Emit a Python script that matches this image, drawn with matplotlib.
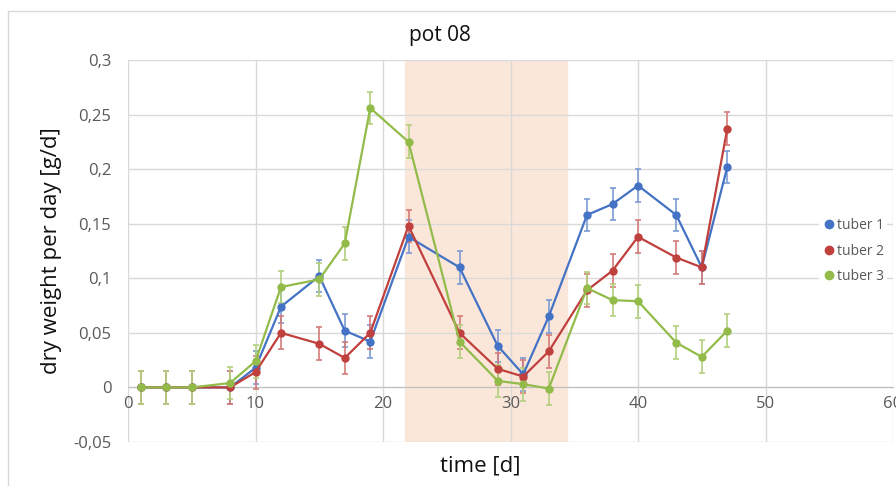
import matplotlib.pyplot as plt
from matplotlib.lines import Line2D
from matplotlib.patches import Rectangle

# === DONNÉES ===
days = [1, 3, 5, 8, 10, 12, 15, 17, 19, 22, 26, 29, 31, 33, 36, 38, 40, 43, 45, 47]
tuber_1 = [0, 0, 0, 0, 0.018, 0.074, 0.102, 0.052, 0.042, 0.138, 0.110, 0.038, 0.012, 0.065,
           0.158, 0.168, 0.185, 0.158, 0.110, 0.202]
tuber_2 = [0, 0, 0, 0, 0.014, 0.050, 0.040, 0.027, 0.050, 0.148, 0.050, 0.017, 0.010, 0.033,
           0.089, 0.107, 0.138, 0.119, 0.110, 0.237]
tuber_3 = [0, 0, 0, 0.004, 0.024, 0.092, 0.099, 0.132, 0.256, 0.225, 0.042, 0.006, 0.003, -0.001,
           0.091, 0.080, 0.079, 0.041, 0.028, 0.052]
err = 0.015
shade_start, shade_end = 21.7, 34.4

series = [("tuber 1", tuber_1, "#4472C4", "#7C9BD4"),
          ("tuber 2", tuber_2, "#C0403D", "#D47C79"),
          ("tuber 3", tuber_3, "#92BB4A", "#B2D07E")]

plt.rcParams['font.family'] = ['Open Sans', 'DejaVu Sans']

fig = plt.figure(figsize=(8.96, 4.86), dpi=100)
fig.patches.append(Rectangle((8 / 896, -0.1), 1.0, 1 - 11 / 486 + 0.1, transform=fig.transFigure,
                             fill=False, edgecolor="#D9D9D9", linewidth=1))
ax = fig.add_axes([128 / 896, 1 - 442 / 486, 765 / 896, 382 / 486])

ax.axvspan(shade_start, shade_end, color="#FBE7DA", zorder=0)

for label, vals, col, ecol in series:
    ax.errorbar(days, vals, yerr=err, color=col, ecolor=ecol, elinewidth=1.2, capsize=2.5,
                capthick=1.2, marker="o", markersize=5, linewidth=1.6, zorder=3)

ax.set_xlim(0, 60)
ax.set_ylim(-0.05, 0.3)
ax.set_xticks(range(0, 61, 10))
ax.set_yticks([-0.05, 0, 0.05, 0.1, 0.15, 0.2, 0.25, 0.3])
ax.set_yticklabels(["-0,05", "0", "0,05", "0,1", "0,15", "0,2", "0,25", "0,3"])
ax.grid(True, color="#D9D9D9", linewidth=1, zorder=1)
ax.set_axisbelow(True)
for s in ["top", "right", "left"]:
    ax.spines[s].set_visible(False)
ax.spines["bottom"].set_position(("data", 0))
ax.spines["bottom"].set_color("#BFBFBF")
ax.spines["bottom"].set_zorder(2)
ax.tick_params(length=0, labelsize=12, colors="#595959", pad=6)
ax.tick_params(axis="y", pad=12)

fig.text(440 / 896, 1 - 36 / 486, "pot 08", fontsize=15, color="#111111", ha="center", va="center")
ax.set_ylabel("dry weight per day [g/d]", fontsize=16, color="#111111", labelpad=8)
fig.text(480 / 896, 1 - 466 / 486, "time [d]", fontsize=16, color="#111111",
         ha="center", va="center")

handles = [Line2D([], [], linestyle="none", marker="o", markersize=6, color=c) for _, _, c, _ in series]
leg = ax.legend(handles, [s[0] for s in series], loc="center left",
                bbox_to_anchor=(812 / 896, 1 - 251 / 486), bbox_transform=fig.transFigure,
                frameon=True, fontsize=10, handletextpad=0.1, handlelength=1.0,
                labelspacing=0.75, borderpad=0.2, labelcolor="#595959")
leg.get_frame().set_facecolor("white")
leg.get_frame().set_edgecolor("none")
leg.get_frame().set_alpha(1)

fig.savefig("out.png", dpi=100)
